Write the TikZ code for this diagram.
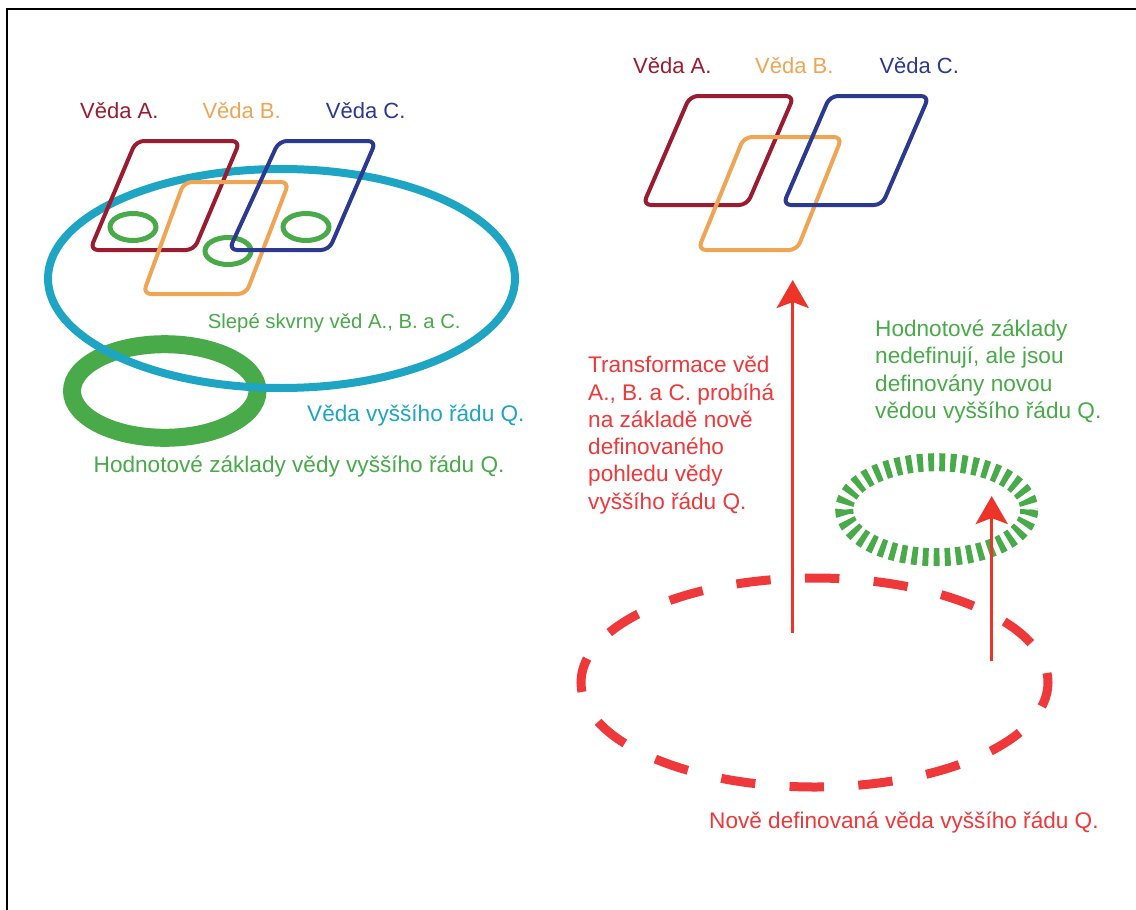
\documentclass[tikz,border=0pt]{standalone}
\usepackage{fontspec}
\setmainfont{Liberation Sans}
\usetikzlibrary{arrows.meta}
\definecolor{cA}{RGB}{155,27,48}
\definecolor{cB}{RGB}{240,165,85}
\definecolor{cC}{RGB}{43,57,144}
\definecolor{cQ}{RGB}{30,165,196}
\definecolor{cG}{RGB}{72,170,72}
\definecolor{cR}{RGB}{238,56,58}
\definecolor{cArr}{RGB}{236,52,40}
\begin{document}
\begin{tikzpicture}[x=1pt,y=-1pt,
  lbl/.style={inner sep=0pt, anchor=base west, font=\fontsize{22}{26}\selectfont},
  txt/.style={inner sep=0pt, anchor=base west, align=left, font=\fontsize{22.6}{27.3}\selectfont},
  sci/.style={line width=4pt, rounded corners=8pt, line join=round},
  spot/.style={draw=cG, line width=5pt},
  uparrow/.style={draw=cArr, line width=3.5pt, -{Stealth[length=28pt,width=32pt,inset=6pt]}},
]
\useasboundingbox (0,0) rectangle (1136,910);
\fill[white] (0,0) rectangle (1136,910);
\draw[line width=2.6pt] (7,910) -- (7,9) -- (1136,9);

% ---------- left part ----------
\draw[cG, line width=18pt] (164.75,391) ellipse [x radius=92.75, y radius=46.8];
\draw[cQ, line width=8pt] (281.5,278.5) ellipse [x radius=233.5, y radius=109.5];
\draw[spot] (133,227) ellipse [x radius=23, y radius=13.5];
\draw[spot] (228,251) ellipse [x radius=23, y radius=13.5];
\draw[spot] (306,227) ellipse [x radius=23, y radius=13.5];
\draw[sci, cA] (136,141) -- (240,141) -- (194,250) -- (90,250) -- cycle;
\draw[sci, cB] (184,182) -- (289,182) -- (246,294) -- (143,294) -- cycle;
\draw[sci, cC] (279,141) -- (376,141) -- (329,250) -- (229,250) -- cycle;

\node[lbl, text=cA] (la) at (80,118.3) {Věda A.};
\node[lbl, text=cB] (lb) at (202.3,118.3) {Věda B.};
\node[lbl, text=cC] (lc) at (325.7,118.3) {Věda C.};
\node[inner sep=0pt, anchor=base west, font=\fontsize{20.3}{24}\selectfont, text=cG] (spots) at (207.7,328.3) {Slepé skvrny věd A., B. a C.};
\node[txt, text=cQ] (vq) at (307,421.7) {Věda vyššího řádu Q.};
\node[txt, text=cG] (hz) at (93.5,472.7) {Hodnotové základy vědy vyššího řádu Q.};

% ---------- right part ----------
\draw[sci, cA] (690,96) -- (794,96) -- (747,205) -- (643,205) -- cycle;
\draw[sci, cB] (744,137) -- (842,137) -- (797,250) -- (698,250) -- cycle;
\draw[sci, cC] (830,96) -- (929,96) -- (882,205) -- (783,205) -- cycle;

\node[lbl, text=cA] (ra) at (633,73.3) {Věda A.};
\node[lbl, text=cB] (rb) at (755,73.3) {Věda B.};
\node[lbl, text=cC] (rc) at (879.3,73.3) {Věda C.};

\draw[cR, line width=9pt, dash pattern=on 34.4pt off 34.4pt, dash phase=9.4pt]
  (814.5,682.5) ellipse [x radius=233.5, y radius=104.5];
\draw[cG, line width=18pt, dash pattern=on 5.8pt off 5.2pt]
  (936.7,509.7) ellipse [x radius=92.5, y radius=47.5];

\coordinate (a1s) at (792.7,632.7);
\coordinate (a1e) at (792.7,280);
\coordinate (a2s) at (991.7,660.7);
\coordinate (a2e) at (991.7,496);
\draw[uparrow] (a1s) -- (a1e);
\draw[uparrow] (a2s) -- (a2e);

% base anchor of a multi-line node is the baseline of its last line
\node[txt, text=cR] (tr) at (588,509.2) {Transformace věd\\A., B. a C. probíhá\\na základě nově\\definovaného\\pohledu vědy\\vyššího řádu Q.};
\node[txt, text=cG] (hn) at (875,418.5) {Hodnotové základy\\nedefinují, ale jsou\\definovány novou\\vědou vyššího řádu Q.};
\node[txt, text=cR] (nq) at (709,828) {Nově definovaná věda vyššího řádu Q.};
\end{tikzpicture}
\end{document}
